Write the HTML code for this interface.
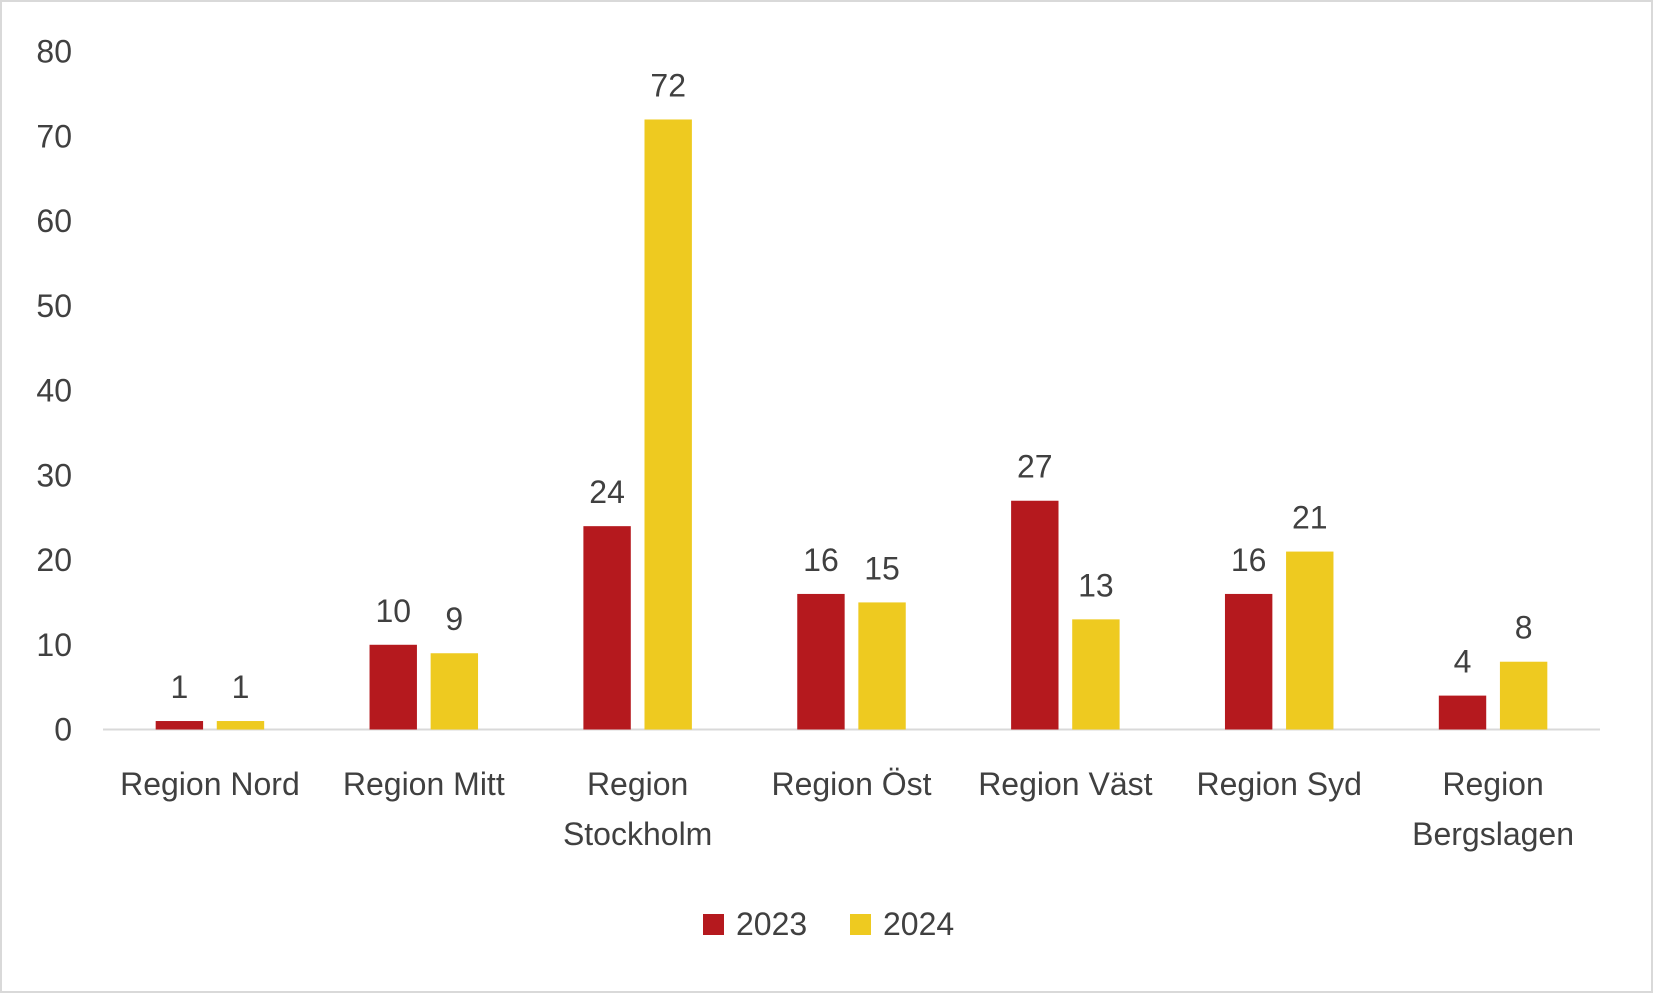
<!DOCTYPE html>
<html><head><meta charset="utf-8"><style>
body{margin:0;background:#fff;}
svg{display:block;font-family:"Liberation Sans","DejaVu Sans",sans-serif;}
</style></head><body>
<svg id="chart" width="1653" height="993" viewBox="0 0 1653 993" xmlns="http://www.w3.org/2000/svg">
<rect x="1" y="1" width="1651" height="991" fill="#fff" stroke="#d9d9d9" stroke-width="2"/>
<g id="grid"></g><g id="bars"></g><g id="labels"></g>
<g>
<rect x="703" y="914" width="21" height="21" fill="#B5191E"/>
<text x="736" y="935" font-size="32" fill="#404040">2023</text>
<rect x="850" y="914" width="21" height="21" fill="#EECA20"/>
<text x="883" y="935" font-size="32" fill="#404040">2024</text>
</g>
</svg>
<script>
const categories=[["Region Nord"],["Region Mitt"],["Region","Stockholm"],["Region Öst"],["Region Väst"],["Region Syd"],["Region","Bergslagen"]];
const values2023=[1,10,24,16,27,16,4];
const values2024=[1,9,72,15,13,21,8];
const ticks=[0,10,20,30,40,50,60,70,80];
const NS="http://www.w3.org/2000/svg";
const x0=103,x1=1600,y0=729.5,y80=51.7;
const yS=v=>y0-(v/80)*(y0-y80);
const bw=(x1-x0)/categories.length;
const barW=47.4,gap=13.7;
function mk(t,a,p){const e=document.createElementNS(NS,t);for(const k in a)e.setAttribute(k,a[k]);document.getElementById(p).appendChild(e);return e;}
const ax=mk('line',{x1:x0,x2:x1,y1:y0,y2:y0,stroke:'#d9d9d9','stroke-width':2},'grid');


ticks.forEach(t=>{const e=mk('text',{x:72,y:yS(t)+11,'text-anchor':'end','font-size':32,fill:'#404040'},'labels');e.textContent=t;

});
categories.forEach((c,i)=>{
const cx=x0+bw*(i+0.5);
[[values2023,'#B5191E',-1,'2023'],[values2024,'#EECA20',1,'2024']].forEach(([arr,col,s,yr])=>{
const v=arr[i];const bx=s<0?cx-gap/2-barW:cx+gap/2;
const r=mk('rect',{x:bx,y:yS(v),width:barW,height:y0-yS(v),fill:col},'bars');


const t=mk('text',{x:bx+barW/2,y:yS(v)-34+11,'text-anchor':'middle','font-size':32,fill:'#404040'},'labels');t.textContent=v;


});
c.forEach((ln,j)=>{const t=mk('text',{x:cx,y:795+j*50,'text-anchor':'middle','font-size':32,fill:'#404040'},'labels');t.textContent=ln;

});
});
</script>
</body></html>
